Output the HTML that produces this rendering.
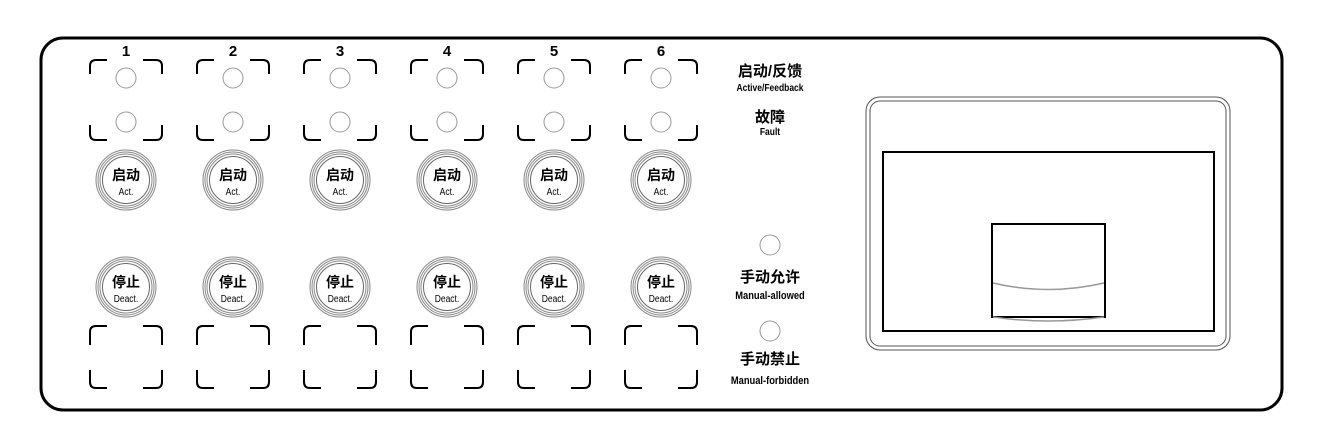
<!DOCTYPE html>
<html><head><meta charset="utf-8"><style>
body{margin:0;background:#fff;}
svg text{font-family:"Liberation Sans","Noto Sans CJK SC",sans-serif;fill:#000;}
</style></head><body>
<svg width="1320" height="436" viewBox="0 0 1320 436" xmlns="http://www.w3.org/2000/svg">
<rect x="41" y="38" width="1241" height="372" rx="22" fill="none" stroke="#000" stroke-width="3"/>
<g id="cols"></g>
<!-- right labels -->
<g text-anchor="middle" font-weight="bold">
<text x="770" y="76" font-size="15">启动/反馈</text>
<text x="770" y="91" font-size="10" transform="translate(770 0) scale(0.85 1) translate(-770 0)">Active/Feedback</text>
<text x="770" y="122" font-size="15">故障</text>
<text x="770" y="135" font-size="10" transform="translate(770 0) scale(0.85 1) translate(-770 0)">Fault</text>
<text x="770" y="282" font-size="15">手动允许</text>
<text x="770" y="299" font-size="11" transform="translate(770 0) scale(0.85 1) translate(-770 0)">Manual-allowed</text>
<text x="770" y="364" font-size="15">手动禁止</text>
<text x="770" y="384" font-size="11" transform="translate(770 0) scale(0.85 1) translate(-770 0)">Manual-forbidden</text>
</g>
<circle cx="770" cy="245" r="10" fill="none" stroke="#999" stroke-width="1"/>
<circle cx="770" cy="331" r="10" fill="none" stroke="#999" stroke-width="1"/>
<!-- right box -->
<rect x="866" y="97" width="364" height="253" rx="14" fill="none" stroke="#555" stroke-width="1"/>
<rect x="870" y="101" width="356" height="245" rx="10" fill="none" stroke="#555" stroke-width="1"/>
<rect x="883" y="152" width="331" height="179" fill="none" stroke="#000" stroke-width="2"/>
<rect x="992" y="224" width="113" height="93" fill="none" stroke="#000" stroke-width="2"/>
<path d="M993 283 Q1048 296 1104 283" fill="none" stroke="#999" stroke-width="1.5"/>
<path d="M993 317 Q1048 325 1104 317" fill="none" stroke="#999" stroke-width="1.5"/>
</svg>
<script>
const g=document.getElementById('cols');let h='';
for(let i=0;i<6;i++){
 const x0=90+i*107, cx=x0+36;
 const br=(yt,yb,t1,b1)=>{
  // top corners
  let s='';
  s+=`<path d="M${x0} ${t1} V${yt+6} Q${x0} ${yt} ${x0+6} ${yt} H${x0+17}" />`;
  s+=`<path d="M${x0+72} ${t1} V${yt+6} Q${x0+72} ${yt} ${x0+66} ${yt} H${x0+53}" />`;
  s+=`<path d="M${x0} ${b1} V${yb-6} Q${x0} ${yb} ${x0+6} ${yb} H${x0+17}" />`;
  s+=`<path d="M${x0+72} ${b1} V${yb-6} Q${x0+72} ${yb} ${x0+66} ${yb} H${x0+53}" />`;
  return s;};
 h+=`<g fill="none" stroke="#000" stroke-width="2">${br(60,140,74,125)}${br(326,388,345,370)}</g>`;
 h+=`<text x="${cx}" y="56" font-size="15" font-weight="bold" text-anchor="middle">${i+1}</text>`;
 h+=`<circle cx="${cx}" cy="78" r="10" fill="none" stroke="#999"/><circle cx="${cx}" cy="122" r="10" fill="none" stroke="#999"/>`;
 for(const [cy,a,b] of [[180,'启动','Act.'],[287,'停止','Deact.']]){
  h+=`<circle cx="${cx}" cy="${cy}" r="30" fill="none" stroke="#888" stroke-width="1"/>`;
  h+=`<circle cx="${cx}" cy="${cy}" r="28" fill="none" stroke="#888" stroke-width="1"/>`;
  h+=`<circle cx="${cx}" cy="${cy}" r="26" fill="none" stroke="#888" stroke-width="1"/>`;
  h+=`<circle cx="${cx}" cy="${cy}" r="23.5" fill="none" stroke="#666" stroke-width="1"/>`;
  h+=`<text x="${cx}" y="${cy}" font-size="14" font-weight="bold" text-anchor="middle">${a}</text>`;
  h+=`<text x="${cx}" y="${cy+15}" font-size="10" text-anchor="middle" transform="translate(${cx} 0) scale(0.85 1) translate(${-cx} 0)">${b}</text>`;
 }
}
g.innerHTML=h;
</script>
</body></html>
